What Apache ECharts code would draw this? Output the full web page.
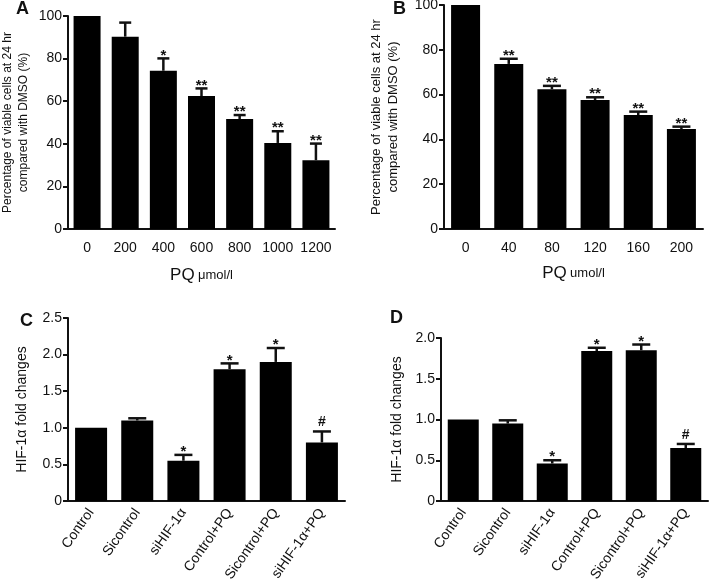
<!DOCTYPE html>
<html>
<head>
<meta charset="utf-8">
<script src="https://cdn.jsdelivr.net/npm/echarts@6/dist/echarts.min.js"></script>
<style>
  html, body { margin: 0; padding: 0; background: #fff; }
  #main { width: 709px; height: 582px; }
</style>
</head>
<body>
<div id="main"></div>
<script>
// panel A: PQ dose (umol/l), viability %
const doseA = ['0', '200', '400', '600', '800', '1000', '1200']
const viableA = [100, 90.3, 74.3, 62.4, 51.6, 40.4, 32.3]
const errA = [0, 6.6, 5.8, 3.6, 1.9, 5.5, 7.8]
const sigA = ['', '', '*', '**', '**', '**', '**']

// panel B
const doseB = ['0', '40', '80', '120', '160', '200']
const viableB = [100, 73.7, 62.4, 57.6, 50.9, 44.6]
const errB = [0, 2.3, 1.5, 1.2, 1.5, 1.1]
const sigB = ['', '**', '**', '**', '**', '**']

// panels C and D: HIF-1α fold changes
const groups = ['Control', 'Sicontrol', 'siHIF-1α', 'Control+PQ', 'Sicontrol+PQ', 'siHIF-1α+PQ']
const hifC = [1.0, 1.1, 0.55, 1.8, 1.9, 0.8]
const errC = [0, 0.03, 0.08, 0.08, 0.19, 0.15]
const sigC = ['', '', '*', '*', '*', '#']
const hifD = [1.0, 0.95, 0.46, 1.84, 1.85, 0.65]
const errD = [0, 0.04, 0.04, 0.04, 0.07, 0.05]
const sigD = ['', '', '*', '*', '*', '#']

const FONT = 'Liberation Sans, Arial, sans-serif'
const INK = '#111'

const chart = echarts.init(document.getElementById('main'))

// error bar (upper half only) + significance mark
function errSeries(idx, vals, errs, sigs, capHalf) {
  return {
    type: 'custom',
    xAxisIndex: idx,
    yAxisIndex: idx,
    z: 5,
    data: vals.map((v, i) => [i, v, errs[i]]),
    renderItem: function (params, api) {
      const i = api.value(0)
      const v = api.value(1)
      const e = api.value(2)
      const base = api.coord([i, v])
      const top = api.coord([i, v + e])
      const children = []
      if (e > 0) {
        children.push({
          type: 'line',
          shape: { x1: base[0], y1: base[1], x2: top[0], y2: top[1] },
          style: { stroke: INK, lineWidth: 2.5 }
        })
        children.push({
          type: 'line',
          shape: { x1: top[0] - capHalf, y1: top[1], x2: top[0] + capHalf, y2: top[1] },
          style: { stroke: INK, lineWidth: 2.5 }
        })
      }
      const s = sigs[params.dataIndex]
      if (s) {
        children.push({
          type: 'text',
          style: {
            text: s,
            x: top[0],
            y: top[1] - (s === '#' ? 9 : 3),
            align: 'center',
            verticalAlign: 'middle',
            fill: INK,
            font: (s === '#' ? 'bold 14px ' : 'bold 15px ') + FONT
          }
        })
      }
      return { type: 'group', children: children }
    }
  }
}

function xAx(idx, cats, rotated, name, gap) {
  return {
    type: 'category',
    gridIndex: idx,
    data: cats,
    axisLine: { lineStyle: { color: INK, width: 2 } },
    axisTick: { alignWithLabel: true, length: 5, lineStyle: { color: INK, width: 2 } },
    axisLabel: rotated ? {
      rotate: 55, margin: 9, color: INK, fontSize: 14, fontFamily: FONT, interval: 0
    } : {
      margin: 12, color: INK, fontSize: 14, fontFamily: FONT, interval: 0
    },
    name: name,
    nameLocation: 'middle',
    nameGap: gap,
    nameTextStyle: {
      color: INK,
      fontFamily: FONT,
      rich: {
        a: { fontSize: 17, fontFamily: FONT, color: INK },
        b: { fontSize: 13, fontFamily: FONT, color: INK }
      }
    }
  }
}

function yAx(idx, max, interval, name, gap, size, dec) {
  return {
    type: 'value',
    gridIndex: idx,
    min: 0,
    max: max,
    interval: interval,
    splitLine: { show: false },
    axisLine: { show: true, lineStyle: { color: INK, width: 2 } },
    axisTick: { show: true, length: 5, lineStyle: { color: INK, width: 2 } },
    axisLabel: {
      margin: 6, color: INK, fontSize: 14, fontFamily: FONT,
      formatter: v => (v === 0 || !dec) ? String(v) : v.toFixed(1)
    },
    name: name,
    nameLocation: 'middle',
    nameRotate: 90,
    nameGap: gap,
    nameTextStyle: { color: INK, fontSize: size, fontFamily: FONT, lineHeight: size + 4 }
  }
}

function bars(idx, vals, w) {
  return {
    type: 'bar',
    xAxisIndex: idx,
    yAxisIndex: idx,
    data: vals,
    barWidth: w,
    itemStyle: { color: '#000' },
    silent: true
  }
}

const option = {
  animation: false,
  backgroundColor: '#fff',
  grid: [
    { left: 68, top: 16, width: 267, height: 213, outerBoundsMode: 'none' },
    { left: 444, top: 5, width: 259, height: 224, outerBoundsMode: 'none' },
    { left: 68, top: 318, width: 277, height: 183, outerBoundsMode: 'none' },
    { left: 441, top: 338, width: 267, height: 163, outerBoundsMode: 'none' }
  ],
  xAxis: [
    xAx(0, doseA, false, '{a|PQ} {b|μmol/l}', 38),
    xAx(1, doseB, false, '{a|PQ} {b|umol/l}', 36),
    xAx(2, groups, true, '', 0),
    xAx(3, groups, true, '', 0)
  ],
  yAxis: [
    yAx(0, 100, 20, 'Percentage of viable cells at 24 hr\ncompared with DMSO (%)', 36, 12, false),
    yAx(1, 100, 20, 'Percentage of viable cells at 24 hr\ncompared with DMSO (%)', 42, 13, false),
    yAx(2, 2.5, 0.5, 'HIF-1α fold changes', 37, 14, true),
    yAx(3, 2.0, 0.5, 'HIF-1α fold changes', 35, 14, true)
  ],
  graphic: [
    { type: 'text', left: 16, top: 0, style: { text: 'A', font: 'bold 18px ' + FONT, fill: INK } },
    { type: 'text', left: 393, top: 0, style: { text: 'B', font: 'bold 18px ' + FONT, fill: INK } },
    { type: 'text', left: 20, top: 312, style: { text: 'C', font: 'bold 18px ' + FONT, fill: INK } },
    { type: 'text', left: 390, top: 309, style: { text: 'D', font: 'bold 18px ' + FONT, fill: INK } }
  ],
  series: [
    bars(0, viableA, 27),
    bars(1, viableB, 29),
    bars(2, hifC, 32),
    bars(3, hifD, 31),
    errSeries(0, viableA, errA, sigA, 6),
    errSeries(1, viableB, errB, sigB, 9),
    errSeries(2, hifC, errC, sigC, 9),
    errSeries(3, hifD, errD, sigD, 9)
  ]
}

chart.setOption(option)
</script>
</body>
</html>
